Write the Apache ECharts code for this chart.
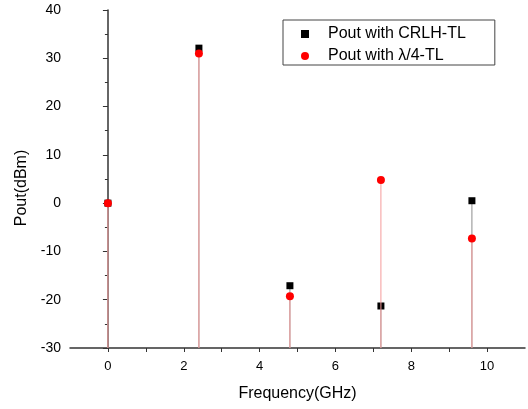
<!DOCTYPE html>
<html><head><meta charset="utf-8">
<script src="https://cdn.jsdelivr.net/npm/echarts@6/dist/echarts.min.js"></script>
<style>html,body{margin:0;padding:0;background:#fff}#c{width:528px;height:409px}</style>
</head><body><div id="c"></div>
<script>
const frequencies = [0, 2.4, 4.8, 7.2, 9.6];
const poutCRLH = [0, 32.1, -17.1, -21.3, 0.5];
const poutQuarter = [0, 31.0, -19.3, 4.8, -7.3];
const xTicks = [0, 2, 4, 6, 8, 10];
const yTicks = [-30, -20, -10, 0, 10, 20, 30, 40];
const seriesNames = ['Pout with CRLH-TL', 'Pout with \u03bb/4-TL'];

const Y_MIN = -30, Y_MAX = 40, X_MIN = -1, X_MAX = 11;
const FONT = 'Liberation Sans, Arial, sans-serif';

function pairs(xs, ys) { return xs.map((x, i) => [x, ys[i]]); }
function stem(color) {
  return function (params, api) {
    const top = api.coord([api.value(0), api.value(1)]);
    const bot = api.coord([api.value(0), Y_MIN]);
    return { type: 'line', shape: { x1: top[0], y1: top[1], x2: bot[0], y2: bot[1] },
      style: { stroke: color, lineWidth: 1 } };
  };
}

const chart = echarts.init(document.getElementById('c'), null, { renderer: 'canvas' });
chart.setOption({
  animation: false,
  backgroundColor: '#fff',
  grid: { left: 70, right: 3, top: 10, bottom: 61, containLabel: false },
  legend: {
    orient: 'vertical', left: 283, top: 20,
    padding: [6, 29, 1, 18],
    itemWidth: 8, itemHeight: 8, itemGap: 6,
    borderColor: '#444', borderWidth: 1,
    backgroundColor: '#fff',
    textStyle: { fontFamily: FONT, fontSize: 16, color: '#000', padding: [0, 0, 0, 14] },
    data: [
      { name: seriesNames[0], icon: 'rect', itemStyle: { color: '#000', opacity: 1 } },
      { name: seriesNames[1], icon: 'circle', itemStyle: { color: '#ff0000', opacity: 1 } }
    ]
  },
  xAxis: {
    type: 'value', min: X_MIN, max: X_MAX, interval: 1,
    name: 'Frequency(GHz)', nameLocation: 'middle', nameGap: 38,
    nameTextStyle: { fontFamily: FONT, fontSize: 16, color: '#000' },
    axisLine: { onZero: false, lineStyle: { color: '#333', width: 1.5 } },
    axisTick: { show: true, length: 4, inside: false, lineStyle: { color: '#333', width: 1 } },
    axisLabel: { fontFamily: FONT, fontSize: 13, color: '#000', margin: 12,
      formatter: v => xTicks.indexOf(v) >= 0 ? String(v) : '' , showMinLabel: false, showMaxLabel: false},
    splitLine: { show: false }
  },
  yAxis: {
    type: 'value', min: Y_MIN, max: Y_MAX, interval: 10,
    name: 'Pout(dBm)', nameLocation: 'middle', nameGap: 38, nameRotate: 90,
    nameTextStyle: { fontFamily: FONT, fontSize: 16, color: '#000', padding: [0, 18, 0, 0] },
    axisLine: { show: true, lineStyle: { color: '#333', width: 1.5 } },
    axisTick: { show: true, length: 5, inside: false, lineStyle: { color: '#333', width: 1 } },
    minorTick: { show: true, splitNumber: 2, length: 3, lineStyle: { color: '#333', width: 1 } },
    axisLabel: { fontFamily: FONT, fontSize: 14, color: '#000', margin: 9,
      formatter: v => yTicks.indexOf(v) >= 0 ? String(v) : '' },
    splitLine: { show: false }
  },
  series: [
    { type: 'custom', name: 'stemA', renderItem: stem('#8c8c8c'), data: pairs(frequencies, poutCRLH), silent: true, z: 1 },
    { type: 'scatter', name: seriesNames[0], data: pairs(frequencies, poutCRLH), symbol: 'rect', symbolSize: 7,
      itemStyle: { color: '#000', opacity: 1 }, z: 2 },
    { type: 'custom', name: 'stemB', renderItem: stem('#f59a9a'), data: pairs(frequencies, poutQuarter), silent: true, z: 3 },
    { type: 'scatter', name: seriesNames[1], data: pairs(frequencies, poutQuarter), symbol: 'circle', symbolSize: 8,
      itemStyle: { color: '#ff0000', opacity: 1 }, z: 4 }
  ]
});
</script></body></html>
